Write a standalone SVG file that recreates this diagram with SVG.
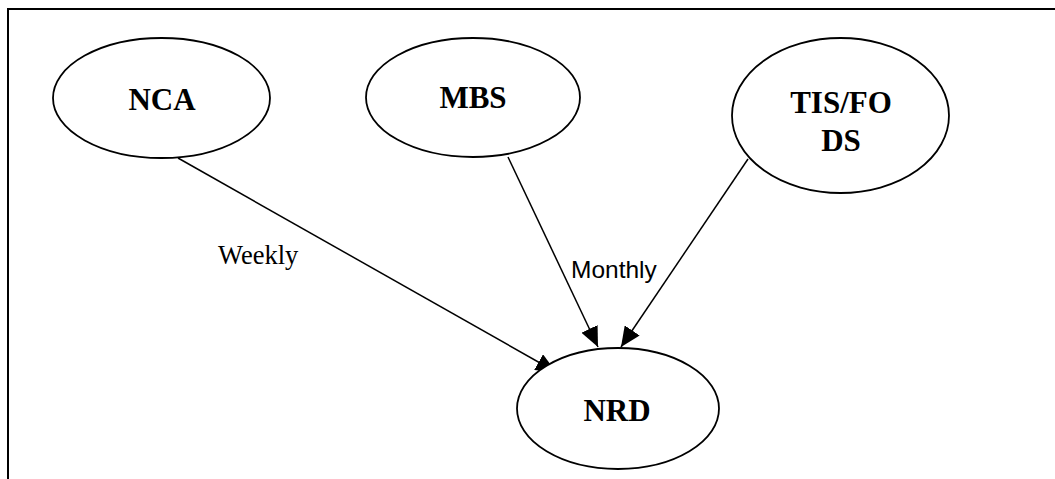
<svg xmlns="http://www.w3.org/2000/svg" width="1055" height="479" viewBox="0 0 1055 479">
  <style>
    .node ellipse { fill: #ffffff; stroke: #000000; stroke-width: 1.8; }
    .node text { font-family: "Liberation Serif", "Times New Roman", serif; font-weight: bold; font-size: 31px; fill: #000000; text-anchor: middle; }
    .edge { stroke: #000000; stroke-width: 1.5; fill: none; marker-end: url(#arrow); }
    .lbl-serif { font-family: "Liberation Serif", "Times New Roman", serif; font-size: 26.5px; fill: #000000; }
    .lbl-sans { font-family: "Liberation Sans", Arial, sans-serif; font-size: 24.5px; fill: #000000; }
    .frame { stroke: #000000; stroke-width: 2; fill: none; }
  </style>
  <defs>
    <marker id="arrow" viewBox="0 0 20 18" refX="20" refY="9" markerWidth="20" markerHeight="18" markerUnits="userSpaceOnUse" orient="auto">
      <path d="M0,0 L20,9 L0,18 z" fill="#000000"/>
    </marker>
  </defs>
  <rect width="1055" height="479" fill="#ffffff"/>
  <g id="frame">
    <path class="frame" d="M8,479 L8,9 L1055,9"/>
  </g>
  <g id="connectors">
    <line class="edge" x1="178" y1="158" x2="556" y2="372"/>
    <line class="edge" x1="508" y1="157" x2="598" y2="347"/>
    <line class="edge" x1="748" y1="159" x2="621" y2="347"/>
    <text class="lbl-serif" x="218" y="264">Weekly</text>
    <text class="lbl-sans" x="571" y="278">Monthly</text>
  </g>
  <g id="node-nca" class="node">
    <ellipse cx="161.5" cy="98" rx="108.5" ry="60"/>
    <text x="162" y="110">NCA</text>
  </g>
  <g id="node-mbs" class="node">
    <ellipse cx="473" cy="97.5" rx="107" ry="59.5"/>
    <text x="473" y="108">MBS</text>
  </g>
  <g id="node-tisfods" class="node">
    <ellipse cx="840.5" cy="115.5" rx="108.5" ry="77.5"/>
    <text x="841" y="113">TIS/FO</text>
    <text x="841" y="151">DS</text>
  </g>
  <g id="node-nrd" class="node">
    <ellipse cx="618" cy="408.5" rx="101" ry="60.5"/>
    <text x="617" y="421">NRD</text>
  </g>
</svg>
